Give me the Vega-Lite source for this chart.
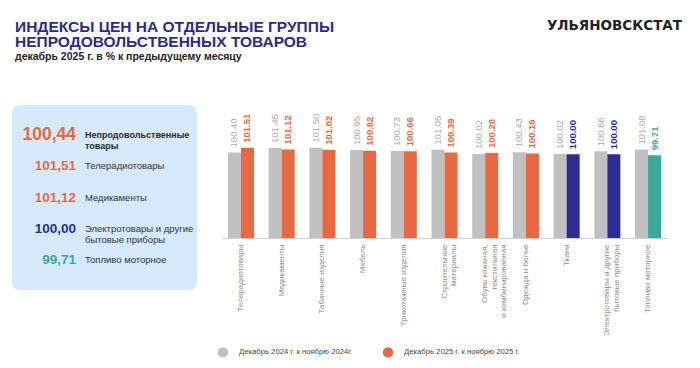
{
  "$schema": "https://vega.github.io/schema/vega-lite/v6.json",
  "background": "white",
  "padding": {"left": 12, "top": 18, "right": 10, "bottom": 6},
  "bounds": "flush",
  "spacing": 24,
  "config": {
    "view": {"stroke": null},
    "font": "Liberation Sans",
    "text": {"font": "Liberation Sans"},
    "title": {"font": "Liberation Sans", "subtitleFont": "Liberation Sans"},
    "axis": {"labelFont": "Liberation Sans"},
    "legend": {"labelFont": "Liberation Sans"}
  },
  "hconcat": [
    {
      "width": 185,
      "height": 185,
      "title": {
        "text": ["ИНДЕКСЫ ЦЕН НА ОТДЕЛЬНЫЕ ГРУППЫ", "НЕПРОДОВОЛЬСТВЕННЫХ ТОВАРОВ"],
        "subtitle": "декабрь 2025 г. в % к предыдущему месяцу",
        "anchor": "start",
        "frame": "group",
        "orient": "top",
        "offset": 43,
        "dx": 3,
        "fontSize": 15.5,
        "fontWeight": "bold",
        "color": "#2d2a8c",
        "lineHeight": 14.5,
        "subtitleFontSize": 10.5,
        "subtitleFontWeight": "bold",
        "subtitleColor": "#222222",
        "subtitlePadding": 1.5
      },
      "data": {
        "values": [
          {"rank": 1, "index": 100.44, "label": "Непродовольственные\nтовары"},
          {"rank": 2, "index": 101.51, "label": "Телерадиотовары"},
          {"rank": 3, "index": 101.12, "label": "Медикаменты"},
          {"rank": 4, "index": 100.00, "label": "Электротовары и другие\nбытовые приборы"},
          {"rank": 5, "index": 99.71, "label": "Топливо моторное"}
        ]
      },
      "transform": [
        {"calculate": "replace(format(datum.index, '.2f'), '.', ',')", "as": "shown"}
      ],
      "layer": [
        {
          "data": {"values": [{}]},
          "mark": {"type": "rect", "cornerRadius": 8, "color": "#d5e9fb"},
          "encoding": {
            "x": {"value": 0},
            "x2": {"value": "width"},
            "y": {"value": 0},
            "y2": {"value": "height"}
          }
        },
        {
          "mark": {"type": "text", "align": "right", "baseline": "middle", "fontWeight": "bold"},
          "encoding": {
            "x": {"value": 64},
            "y": {"field": "rank", "type": "ordinal", "axis": null, "scale": {"padding": 0.95}},
            "text": {"field": "shown"},
            "size": {"condition": {"test": "datum.rank == 1", "value": 17.5}, "value": 13.5},
            "color": {
              "condition": [
                {"test": "datum.index == 100", "value": "#2f2b94"},
                {"test": "datum.index < 100", "value": "#3aaa98"}
              ],
              "value": "#e8683f"
            }
          }
        },
        {
          "transform": [{"filter": "datum.rank == 1"}],
          "mark": {"type": "text", "align": "left", "baseline": "middle", "fontWeight": "bold", "fontSize": 9, "lineBreak": "\n", "lineHeight": 11.5, "color": "#2b2b2b"},
          "encoding": {
            "x": {"value": 73},
            "y": {"field": "rank", "type": "ordinal", "axis": null},
            "text": {"field": "label"}
          }
        },
        {
          "transform": [{"filter": "datum.rank > 1"}],
          "mark": {"type": "text", "align": "left", "baseline": "middle", "fontSize": 9.5, "lineBreak": "\n", "lineHeight": 11, "color": "#333333"},
          "encoding": {
            "x": {"value": 73},
            "y": {"field": "rank", "type": "ordinal", "axis": null},
            "text": {"field": "label"}
          }
        }
      ]
    },
    {
      "width": 447,
      "height": 133,
      "title": {
        "text": "УЛЬЯНОВСКСТАТ",
        "anchor": "end",
        "frame": "group",
        "orient": "top",
        "offset": 73,
        "dx": 14,
        "font": "DejaVu Sans",
        "fontSize": 13.5,
        "fontWeight": "bold",
        "color": "#222222"
      },
      "data": {
        "values": [
          {"cat": "Телерадиотовары", "series": "2024", "value": 100.40},
          {"cat": "Телерадиотовары", "series": "2025", "value": 101.51},
          {"cat": "Медикаменты", "series": "2024", "value": 101.45},
          {"cat": "Медикаменты", "series": "2025", "value": 101.12},
          {"cat": "Табачные изделия", "series": "2024", "value": 101.50},
          {"cat": "Табачные изделия", "series": "2025", "value": 101.02},
          {"cat": "Мебель", "series": "2024", "value": 100.95},
          {"cat": "Мебель", "series": "2025", "value": 100.82},
          {"cat": "Трикотажные изделия", "series": "2024", "value": 100.73},
          {"cat": "Трикотажные изделия", "series": "2025", "value": 100.66},
          {"cat": "Строительные|материалы", "series": "2024", "value": 101.05},
          {"cat": "Строительные|материалы", "series": "2025", "value": 100.39},
          {"cat": "Обувь кожаная,|текстильная|и комбинированная", "series": "2024", "value": 100.02},
          {"cat": "Обувь кожаная,|текстильная|и комбинированная", "series": "2025", "value": 100.28},
          {"cat": "Одежда и белье", "series": "2024", "value": 100.43},
          {"cat": "Одежда и белье", "series": "2025", "value": 100.16},
          {"cat": "Ткани", "series": "2024", "value": 100.02},
          {"cat": "Ткани", "series": "2025", "value": 100.00},
          {"cat": "Электротовары и другие|бытовые приборы", "series": "2024", "value": 100.66},
          {"cat": "Электротовары и другие|бытовые приборы", "series": "2025", "value": 100.00},
          {"cat": "Топливо моторное", "series": "2024", "value": 101.08},
          {"cat": "Топливо моторное", "series": "2025", "value": 99.71}
        ]
      },
      "encoding": {
        "x": {
          "field": "cat",
          "type": "nominal",
          "sort": null,
          "scale": {"paddingInner": 0.36, "paddingOuter": 0.17},
          "axis": {
            "title": null,
            "labelAngle": 270,
            "labelFontSize": 8,
            "labelColor": "#8c8c8c",
            "ticks": false,
            "domainColor": "#d0d0d0",
            "labelPadding": 6,
            "labelLimit": 200,
            "labelLineHeight": 9.5,
            "labelExpr": "split(datum.label, '|')"
          }
        },
        "xOffset": {"field": "series", "type": "nominal"},
        "y": {
          "field": "value",
          "type": "quantitative",
          "scale": {"domain": [80.2, 111.6], "nice": false, "zero": false},
          "axis": null
        }
      },
      "layer": [
        {
          "mark": {"type": "bar", "clip": true},
          "encoding": {
            "color": {
              "field": "series",
              "type": "nominal",
              "scale": {"domain": ["2024", "2025"], "range": ["#c0c0c0", "#e8683f"]},
              "condition": [
                {"test": "datum.series == '2025' && datum.value == 100", "value": "#2f2b94"},
                {"test": "datum.series == '2025' && datum.value < 100", "value": "#3aaa98"}
              ],
              "legend": {
                "orient": "none",
                "legendX": 205,
                "legendY": 241,
                "direction": "horizontal",
                "title": null,
                "padding": 0,
                "symbolType": "circle",
                "symbolSize": 110,
                "symbolOpacity": 1,
                "labelFontSize": 7.7,
                "labelColor": "#444444",
                "labelOffset": 10,
                "columnPadding": 29,
                "labelLimit": 300,
                "labelExpr": "datum.value == '2024' ? 'Декабрь 2024 г. к ноябрю 2024г.' : 'Декабрь 2025 г. к ноябрю 2025 г.'"
              }
            }
          }
        },
        {
          "transform": [{"filter": "datum.series == '2024'"}],
          "mark": {"type": "text", "angle": 270, "align": "left", "baseline": "middle", "dx": 5, "fontSize": 9.5, "color": "#a9a9a9"},
          "encoding": {"text": {"field": "value", "format": ".2f"}}
        },
        {
          "transform": [{"filter": "datum.series == '2025'"}],
          "mark": {"type": "text", "angle": 270, "align": "left", "baseline": "middle", "dx": 5, "fontSize": 9.5, "fontWeight": "bold"},
          "encoding": {
            "text": {"field": "value", "format": ".2f"},
            "color": {
              "condition": [
                {"test": "datum.value == 100", "value": "#2f2b94"},
                {"test": "datum.value < 100", "value": "#3aaa98"}
              ],
              "value": "#e8683f"
            }
          }
        }
      ]
    }
  ]
}
